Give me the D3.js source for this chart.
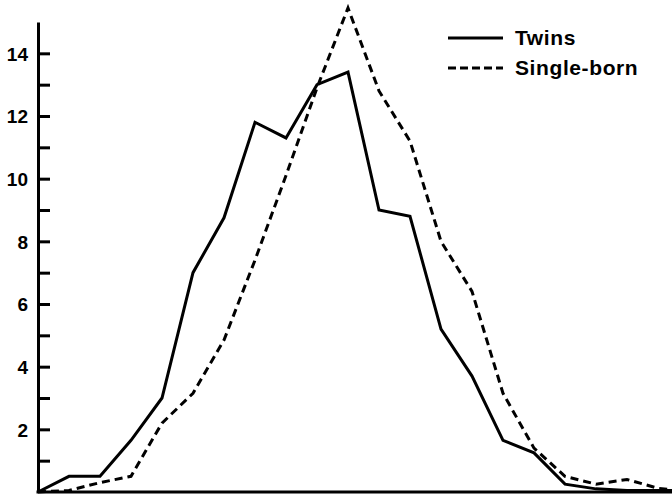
<!DOCTYPE html>
<html>
<head>
<meta charset="utf-8">
<script src="https://cdn.jsdelivr.net/npm/d3@7"></script>
<style>
  body { margin: 0; background: #fff; }
  svg { display: block; }
  .tick text { font-family: "Liberation Sans", Arial, sans-serif; font-weight: bold; font-size: 19px; fill: #000; }
  .legend text { font-family: "Liberation Sans", Arial, sans-serif; font-weight: bold; font-size: 21px; letter-spacing: 0.6px; fill: #000; }
</style>
</head>
<body>
<div id="chart"></div>
<script>
// values, one per interval (index 0..21)
var twins = [0, 0.5, 0.5, 1.65, 3.0, 7.0, 8.75, 11.8, 11.3, 13.0, 13.4, 9.0, 8.8, 5.2, 3.7, 1.65, 1.25, 0.25, 0.1, 0.05, 0.05, 0.05];
var singleBorn = [0, 0.05, 0.3, 0.5, 2.2, 3.15, 4.85, 7.4, 10.1, 12.9, 15.45, 12.8, 11.2, 8.0, 6.4, 3.15, 1.4, 0.5, 0.25, 0.4, 0.12, 0.0];
var yTicks = [1, 2, 3, 4, 5, 6, 7, 8, 9, 10, 11, 12, 13, 14];
var yLabels = [2, 4, 6, 8, 10, 12, 14];
var seriesNames = ["Twins", "Single-born"];

var width = 672, height = 494;
var margin = { top: 22, right: 0, bottom: 2, left: 38 };

var svg = d3.select("#chart")
  .append("svg")
  .attr("width", width)
  .attr("height", height);

var x = d3.scaleLinear()
  .domain([0, 20])
  .range([margin.left, margin.left + 20 * 31]);

var y = d3.scaleLinear()
  .domain([0, 15])
  .range([height - margin.bottom, margin.top]);

// y axis, ticks pointing inward
var yAxis = d3.axisLeft(y)
  .tickValues(yTicks)
  .tickSizeInner(-12)
  .tickSizeOuter(0)
  .tickPadding(10)
  .tickFormat(function(d) { return yLabels.indexOf(d) >= 0 ? d : ""; });

var gy = svg.append("g")
  .attr("transform", "translate(" + margin.left + ",0)")
  .call(yAxis);
gy.select(".domain").attr("stroke", "#000").attr("stroke-width", 3);
gy.selectAll(".tick line").attr("stroke", "#000").attr("stroke-width", 3);
gy.selectAll(".tick text").attr("dy", "0.36em");

// baseline
svg.append("line")
  .attr("x1", margin.left - 1.5)
  .attr("x2", width)
  .attr("y1", y(0))
  .attr("y2", y(0))
  .attr("stroke", "#000")
  .attr("stroke-width", 3);

var line = d3.line()
  .x(function(d, i) { return x(i); })
  .y(function(d) { return y(d); });

svg.append("path")
  .datum(singleBorn)
  .attr("d", line)
  .attr("fill", "none")
  .attr("stroke", "#000")
  .attr("stroke-width", 3)
  .attr("stroke-dasharray", "8,5");

svg.append("path")
  .datum(twins)
  .attr("d", line)
  .attr("fill", "none")
  .attr("stroke", "#000")
  .attr("stroke-width", 3)
  .attr("stroke-linejoin", "miter");

// legend
var legend = svg.append("g").attr("class", "legend");
var dashes = [null, "8,4"];
seriesNames.forEach(function(name, i) {
  var ly = 38 + i * 30;
  legend.append("line")
    .attr("x1", 448).attr("x2", 503)
    .attr("y1", ly).attr("y2", ly)
    .attr("stroke", "#000")
    .attr("stroke-width", 3)
    .attr("stroke-dasharray", dashes[i]);
  legend.append("text")
    .attr("x", 515)
    .attr("y", ly)
    .attr("dy", "0.35em")
    .text(name);
});
</script>
</body>
</html>
